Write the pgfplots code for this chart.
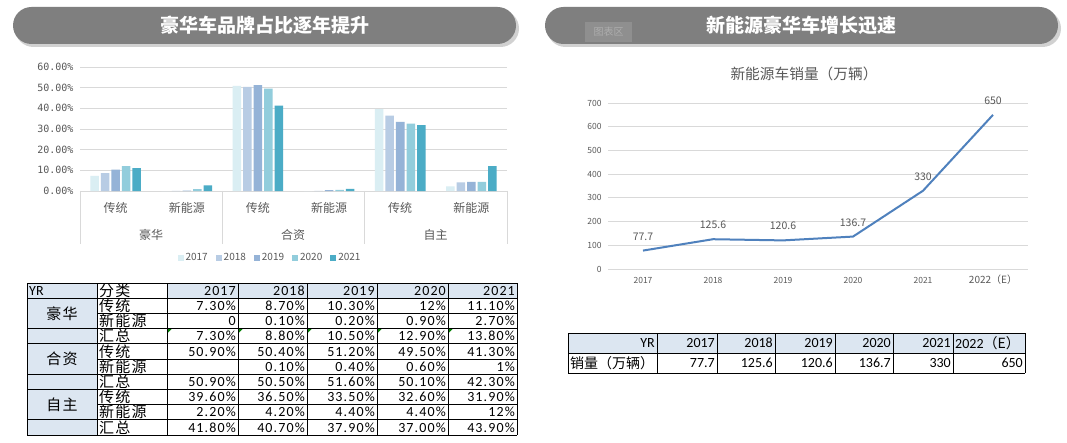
\documentclass[border=0pt]{standalone}
\usepackage{pgfplots}
\pgfplotsset{compat=1.18}
\usepackage{fontspec}
\setmainfont{Noto Sans CJK SC}
\newfontfamily\cjk{Noto Sans CJK SC}
\newfontfamily\cjkt[LetterSpace=8]{Noto Sans CJK SC}
\newfontfamily\numfont[LetterSpace=8]{Carlito}
\newfontfamily\numplain{Carlito}
\newfontfamily\monofont{DejaVu Sans Mono}

\definecolor{c17}{HTML}{DAEEF3}
\definecolor{c18}{HTML}{B8CCE4}
\definecolor{c19}{HTML}{95B3D7}
\definecolor{c20}{HTML}{92CDDC}
\definecolor{c21}{HTML}{4BACC6}
\definecolor{lineblue}{HTML}{4F81BD}
\definecolor{cellblue}{HTML}{DCE6F1}
\definecolor{banner}{HTML}{7F7F7F}
\definecolor{txtgray}{HTML}{595959}
\definecolor{gridgray}{HTML}{D9D9D9}
\definecolor{xlgreen}{HTML}{008000}

\newcommand\fs[1]{\fontsize{#1}{#1}\selectfont}

\pgfplotsset{
  sq/.style={legend image code/.code={\fill[##1] (0pt,-3pt) rectangle (6pt,3pt);}},
}

% one row of the share table: row index, category, five values
\newcommand\lrow[7]{%
  \pgfmathsetmacro\yy{159-15.2*(#1+0.5)}
  \node[anchor=west, inner sep=0pt, font=\cjkt\fs{15}] at (99,\yy) {#2};
  \node[anchor=east, inner sep=0pt, font=\numfont\fs{14}] at (236,\yy) {#3};
  \node[anchor=east, inner sep=0pt, font=\numfont\fs{14}] at (305,\yy) {#4};
  \node[anchor=east, inner sep=0pt, font=\numfont\fs{14}] at (375,\yy) {#5};
  \node[anchor=east, inner sep=0pt, font=\numfont\fs{14}] at (446,\yy) {#6};
  \node[anchor=east, inner sep=0pt, font=\numfont\fs{14}] at (515,\yy) {#7};
}

\begin{document}
\begin{tikzpicture}
\begin{scope}[x=1pt,y=1pt]
\path[fill=white] (0,0) rectangle (1067,442);

% banners
\fill[black!18, rounded corners=18.5pt] (15,395) rectangle (519,432);
\fill[banner, rounded corners=18.5pt] (13,398) rectangle (516,435);
\node[text=white, font=\cjk\bfseries\fs{19}] at (264.5,416.5) {豪华车品牌占比逐年提升};

\fill[black!18, rounded corners=18.5pt] (547,395) rectangle (1061,432);
\fill[banner, rounded corners=18.5pt] (545,398) rectangle (1058,435);
\fill[black!44] (585,400) rectangle (632,420);
\node[text=black!32, font=\cjk\fs{10}] at (608.5,410) {图表区};
\node[text=white, font=\cjk\bfseries\fs{19}] at (801.5,416.5) {新能源豪华车增长迅速};
\end{scope}

% ---------- share bar chart ----------
\begin{axis}[
  at={(80pt,251pt)}, anchor=south west,
  width=427pt, height=124pt, scale only axis,
  ybar=2pt, bar width=8.5pt,
  xmin=-0.5, xmax=5.5, ymin=0, ymax=60,
  xtick={0,...,5},
  xticklabels={传统,新能源,传统,新能源,传统,新能源},
  ytick={0,10,...,60},
  yticklabels={0.00\%,10.00\%,20.00\%,30.00\%,40.00\%,50.00\%,60.00\%},
  axis line style={draw=none}, major tick length=0pt,
  ymajorgrids, grid style={gridgray, line width=0.8pt},
  yticklabel style={font=\monofont\fs{10}, text=txtgray, xshift=-3pt},
  xticklabel style={font=\cjk\fs{12}, text=txtgray, anchor=center, yshift=-17pt},
  legend columns=5,
  legend style={at={(0.445,-0.54)}, anchor=center, draw=none, fill=none,
    font=\fs{10}, text=txtgray,
    /tikz/every even column/.append style={column sep=6pt}},
  clip=false,
]
\addplot[fill=c17, draw=none, sq] coordinates {(0,7.3) (1,0) (2,50.9) (3,0) (4,39.6) (5,2.2)};
\addplot[fill=c18, draw=none, sq] coordinates {(0,8.7) (1,0.1) (2,50.4) (3,0.1) (4,36.5) (5,4.2)};
\addplot[fill=c19, draw=none, sq] coordinates {(0,10.3) (1,0.2) (2,51.2) (3,0.4) (4,33.5) (5,4.4)};
\addplot[fill=c20, draw=none, sq] coordinates {(0,12) (1,0.9) (2,49.5) (3,0.6) (4,32.6) (5,4.4)};
\addplot[fill=c21, draw=none, sq] coordinates {(0,11.1) (1,2.7) (2,41.3) (3,1) (4,31.9) (5,12)};
\legend{2017,2018,2019,2020,2021}
\end{axis}

\begin{scope}[x=1pt,y=1pt]
\foreach \x in {80,222,364,507} \draw[gridgray, line width=0.8pt] (\x,251) -- (\x,198);
\node[font=\cjk\fs{12}, text=txtgray] at (151,207) {豪华};
\node[font=\cjk\fs{12}, text=txtgray] at (293,207) {合资};
\node[font=\cjk\fs{12}, text=txtgray] at (435.5,207) {自主};

% ---------- share table ----------
\fill[cellblue] (27,159) rectangle (97,7);
\fill[cellblue] (167,159) rectangle (517,143.8);
\foreach \x in {167,238,307,377,448}
  \fill[xlgreen] (\x+0.5,112.9) -- (\x+4.5,112.9) -- (\x+0.5,108.9) -- cycle;
\foreach \x in {27,97,167,238,307,377,448,517} \draw[line width=0.7pt] (\x,159) -- (\x,7);
\foreach \k in {0,1,3,4,6,7,9,10} \draw[line width=0.7pt] (27,{159-15.2*\k}) -- (517,{159-15.2*\k});
\foreach \k in {2,5,8} \draw[line width=0.7pt] (97,{159-15.2*\k}) -- (517,{159-15.2*\k});

\node[anchor=west, inner sep=0pt, font=\numplain\fs{14}] at (29,151.4) {YR};
\node[anchor=west, inner sep=0pt, font=\cjkt\fs{15}] at (99,151.4) {分类};
\node[anchor=east, inner sep=0pt, font=\numfont\fs{14}] at (236,151.4) {2017};
\node[anchor=east, inner sep=0pt, font=\numfont\fs{14}] at (305,151.4) {2018};
\node[anchor=east, inner sep=0pt, font=\numfont\fs{14}] at (375,151.4) {2019};
\node[anchor=east, inner sep=0pt, font=\numfont\fs{14}] at (446,151.4) {2020};
\node[anchor=east, inner sep=0pt, font=\numfont\fs{14}] at (515,151.4) {2021};

\lrow{1}{传统}{7.30\%}{8.70\%}{10.30\%}{12\%}{11.10\%}
\lrow{2}{新能源}{0}{0.10\%}{0.20\%}{0.90\%}{2.70\%}
\lrow{3}{汇总}{7.30\%}{8.80\%}{10.50\%}{12.90\%}{13.80\%}
\lrow{4}{传统}{50.90\%}{50.40\%}{51.20\%}{49.50\%}{41.30\%}
\lrow{5}{新能源}{}{0.10\%}{0.40\%}{0.60\%}{1\%}
\lrow{6}{汇总}{50.90\%}{50.50\%}{51.60\%}{50.10\%}{42.30\%}
\lrow{7}{传统}{39.60\%}{36.50\%}{33.50\%}{32.60\%}{31.90\%}
\lrow{8}{新能源}{2.20\%}{4.20\%}{4.40\%}{4.40\%}{12\%}
\lrow{9}{汇总}{41.80\%}{40.70\%}{37.90\%}{37.00\%}{43.90\%}

\node[font=\cjkt\fs{15}] at (62,128.6) {豪华};
\node[font=\cjkt\fs{15}] at (62,83) {合资};
\node[font=\cjkt\fs{15}] at (62,37.4) {自主};

\node[font=\cjk\fs{14.7}, text=txtgray] at (804,368) {新能源车销量（万辆）};
\end{scope}

% ---------- NEV sales line chart ----------
\begin{axis}[
  at={(608pt,173pt)}, anchor=south west,
  width=420pt, height=166pt, scale only axis,
  xmin=-0.5, xmax=5.5, ymin=0, ymax=700,
  xtick={0,...,5},
  xticklabels={2017,2018,2019,2020,2021,{\fs{10}\raisebox{-2pt}{2022（E）}}},
  ytick={0,100,...,700},
  axis line style={draw=none}, major tick length=0pt,
  ymajorgrids, grid style={gridgray, line width=0.8pt},
  yticklabel style={font=\fs{8.5}, text=txtgray, xshift=-3pt},
  xticklabel style={font=\fs{8.5}, text=txtgray, anchor=center, yshift=-11pt},
  nodes near coords,
  nodes near coords style={font=\fs{10.5}, text=txtgray, anchor=south, yshift=6pt},
  /pgf/number format/assume math mode=true,
  clip=false,
]
\addplot[lineblue, line width=2pt, mark=none] coordinates {
  (0,77.7) (1,125.6) (2,120.6) (3,136.7) (4,330) (5,650)};
\end{axis}

% ---------- NEV sales table ----------
\begin{scope}[x=1pt,y=1pt]
\fill[cellblue] (568,109) rectangle (1025,89);
\foreach \x in {568,657,717,775,835,893,953,1025} \draw[line width=0.7pt] (\x,109) -- (\x,69);
\foreach \yv in {109,89,69} \draw[line width=0.7pt] (568,\yv) -- (1025,\yv);
\node[anchor=east, inner sep=0pt, font=\numplain\fs{14}] at (655,99) {YR};
\node[anchor=east, inner sep=0pt, font=\numplain\fs{14}] at (715,99) {2017};
\node[anchor=east, inner sep=0pt, font=\numplain\fs{14}] at (773,99) {2018};
\node[anchor=east, inner sep=0pt, font=\numplain\fs{14}] at (833,99) {2019};
\node[anchor=east, inner sep=0pt, font=\numplain\fs{14}] at (891,99) {2020};
\node[anchor=east, inner sep=0pt, font=\numplain\fs{14}] at (951,99) {2021};
\node[anchor=west, inner sep=0pt] at (955,99) {\numplain\fs{14}2022\cjk（E）};
\node[anchor=west, inner sep=0pt, font=\cjk\fs{14}] at (570,79) {销量（万辆）};
\node[anchor=east, inner sep=0pt, font=\numplain\fs{14}] at (715,79) {77.7};
\node[anchor=east, inner sep=0pt, font=\numplain\fs{14}] at (773,79) {125.6};
\node[anchor=east, inner sep=0pt, font=\numplain\fs{14}] at (833,79) {120.6};
\node[anchor=east, inner sep=0pt, font=\numplain\fs{14}] at (891,79) {136.7};
\node[anchor=east, inner sep=0pt, font=\numplain\fs{14}] at (951,79) {330};
\node[anchor=east, inner sep=0pt, font=\numplain\fs{14}] at (1023,79) {650};
\end{scope}
\end{tikzpicture}
\end{document}
